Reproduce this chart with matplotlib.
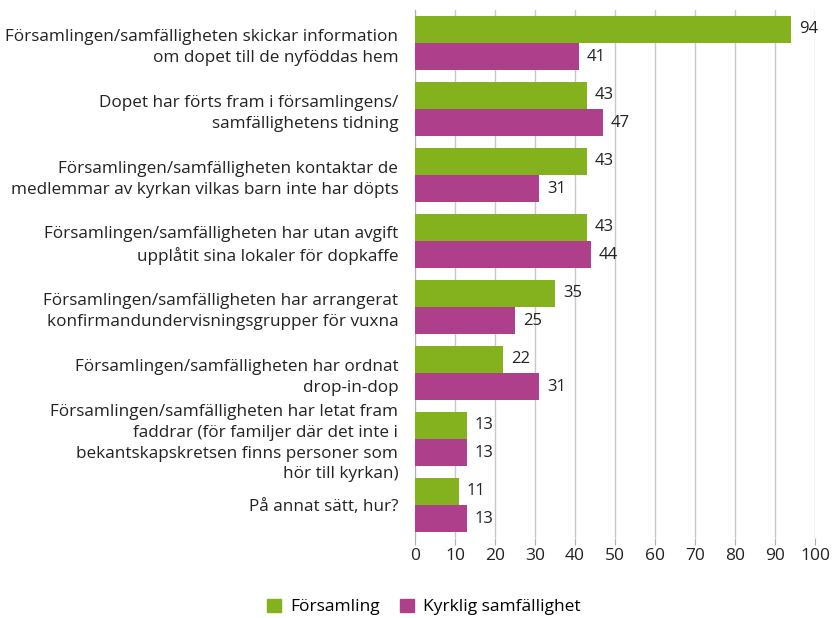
import matplotlib
matplotlib.use("Agg")
import matplotlib.pyplot as plt
import numpy as np
from matplotlib.patches import Patch

categories = [
    "Församlingen/samfälligheten skickar information\nom dopet till de nyföddas hem",
    "Dopet har förts fram i församlingens/\nsamfällighetens tidning",
    "Församlingen/samfälligheten kontaktar de\nmedlemmar av kyrkan vilkas barn inte har döpts",
    "Församlingen/samfälligheten har utan avgift\nupplåtit sina lokaler för dopkaffe",
    "Församlingen/samfälligheten har arrangerat\nkonfirmandundervisningsgrupper för vuxna",
    "Församlingen/samfälligheten har ordnat\ndrop-in-dop",
    "Församlingen/samfälligheten har letat fram\nfaddrar (för familjer där det inte i\nbekantskapskretsen finns personer som\nhör till kyrkan)",
    "På annat sätt, hur?",
]
forsamling = [94, 43, 43, 43, 35, 22, 13, 11]
samfallighet = [41, 47, 31, 44, 25, 31, 13, 13]
series_names = ["Församling", "Kyrklig samfällighet"]
xticks = list(range(0, 101, 10))

green = "#84b21e"
magenta = "#ae3f8b"
FONT = ["Open Sans", "DejaVu Sans"]
plt.rcParams["font.family"] = FONT

fig = plt.figure(figsize=(8.37, 6.18), dpi=100)
ax = fig.add_axes([415 / 837, 1 - 538 / 618, 400 / 837, 528 / 618])

n = len(categories)
y = np.arange(n)
h = 0.41
ax.barh(y - h / 2, forsamling, height=h, color=green, zorder=3)
ax.barh(y + h / 2, samfallighet, height=h, color=magenta, zorder=3)

for i in range(n):
    ax.text(forsamling[i] + 2.0, y[i] - h / 2, str(forsamling[i]), va="center", ha="left",
            fontsize=12, color="#222222")
    ax.text(samfallighet[i] + 2.0, y[i] + h / 2, str(samfallighet[i]), va="center", ha="left",
            fontsize=12, color="#222222")

ax.set_ylim(n - 0.5, -0.5)
ax.set_xlim(0, 100)
ax.set_xticks(xticks)
ax.set_xticklabels([str(t) for t in xticks], fontsize=12.5, color="#222222")
ax.set_yticks(y)
ax.set_yticklabels(categories, fontsize=12.3, color="#222222", ha="right",
                   multialignment="right", linespacing=1.38)
ax.tick_params(axis="y", length=0, pad=12)
ax.tick_params(axis="x", length=5, color="#b0b0b0", pad=2)
ax.grid(axis="x", color="#c8c8c8", linewidth=1, zorder=0)
for s in ["top", "right", "bottom"]:
    ax.spines[s].set_visible(False)
ax.spines["left"].set_color("#b0b0b0")

handles = [Patch(color=green, label=series_names[0]), Patch(color=magenta, label=series_names[1])]
fig.legend(handles=handles, loc="center", bbox_to_anchor=(424 / 837, 1 - 607 / 618), ncol=2,
           frameon=False, fontsize=12.5, handlelength=0.8, handleheight=0.8, columnspacing=1.2,
           handletextpad=0.5)

fig.savefig("out.png", dpi=100)
